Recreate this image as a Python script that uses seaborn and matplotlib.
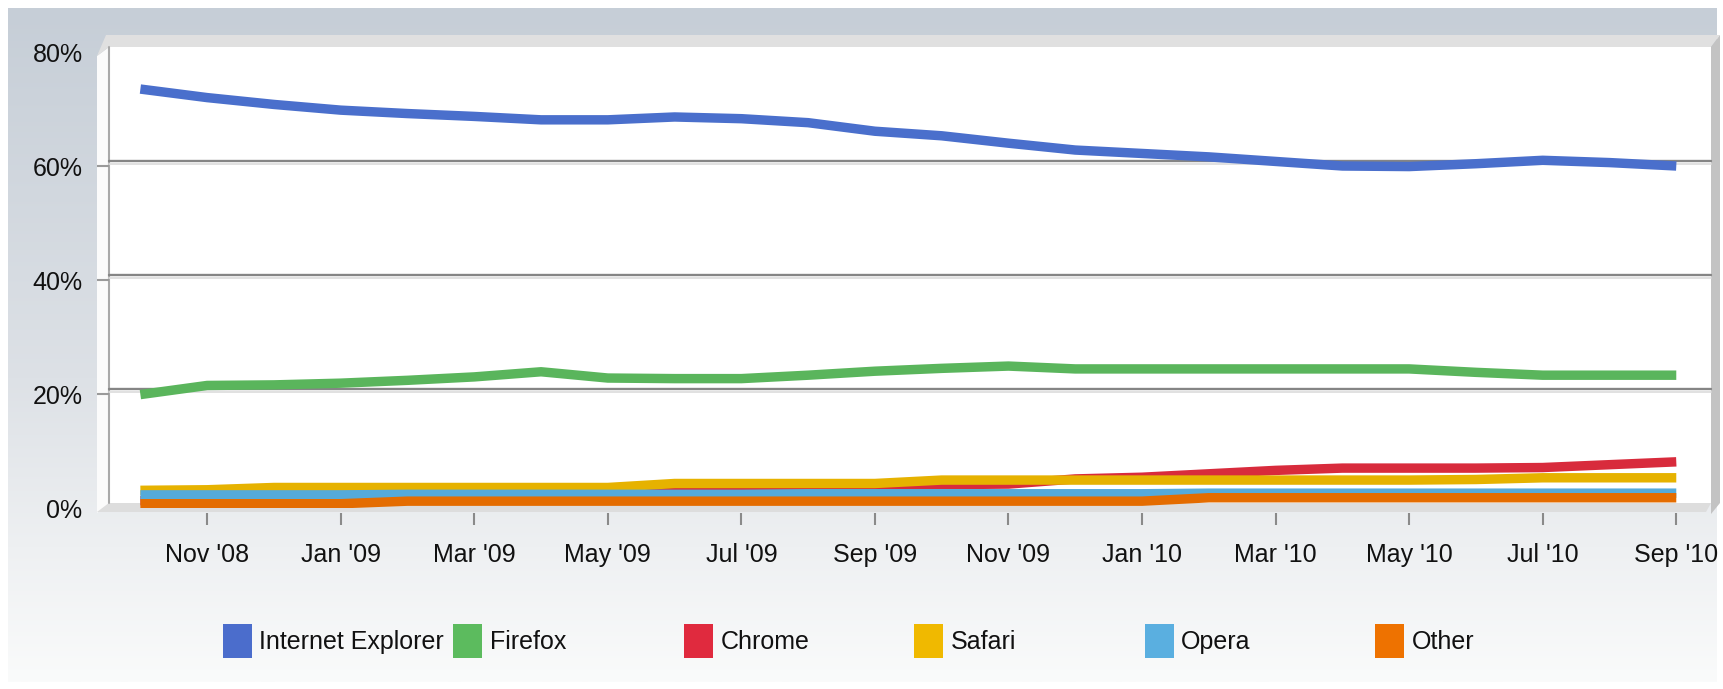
import numpy as np
import pandas as pd
import matplotlib
matplotlib.use("Agg")
import matplotlib.pyplot as plt
import seaborn as sns
from matplotlib.patches import Polygon, Patch
from matplotlib.transforms import ScaledTranslation
from matplotlib.colors import to_rgb

# ---------------- data ----------------
months = ["Oct '08", "Nov '08", "Dec '08", "Jan '09", "Feb '09", "Mar '09",
          "Apr '09", "May '09", "Jun '09", "Jul '09", "Aug '09", "Sep '09",
          "Oct '09", "Nov '09", "Dec '09", "Jan '10", "Feb '10", "Mar '10",
          "Apr '10", "May '10", "Jun '10", "Jul '10", "Aug '10", "Sep '10"]
tick_labels = ["Nov '08", "Jan '09", "Mar '09", "May '09", "Jul '09", "Sep '09",
               "Nov '09", "Jan '10", "Mar '10", "May '10", "Jul '10", "Sep '10"]
browsers = ["Internet Explorer", "Firefox", "Chrome", "Safari", "Opera", "Other"]

ie = [73.5, 72.0, 70.8, 69.8, 69.2, 68.7, 68.1, 68.1, 68.6, 68.3, 67.6, 66.1,
      65.3, 64.0, 62.8, 62.2, 61.6, 60.8, 60.0, 59.9, 60.4, 61.0, 60.6, 60.0]
firefox = [19.9, 21.5, 21.6, 21.9, 22.4, 23.0, 23.9, 22.8, 22.7, 22.7, 23.3, 24.0,
           24.5, 24.9, 24.4, 24.4, 24.4, 24.4, 24.4, 24.4, 23.8, 23.3, 23.3, 23.3]
chrome = [1.3, 1.5, 1.7, 1.9, 2.1, 2.3, 2.5, 2.8, 3.1, 3.2, 3.3, 3.8,
          4.1, 4.2, 5.1, 5.4, 6.0, 6.6, 7.0, 7.0, 7.0, 7.1, 7.6, 8.1]
safari = [3.1, 3.2, 3.6, 3.6, 3.6, 3.6, 3.6, 3.6, 4.3, 4.3, 4.3, 4.3,
          4.9, 4.9, 4.9, 4.9, 4.9, 4.9, 4.9, 4.9, 5.0, 5.3, 5.3, 5.3]
opera = [2.3, 2.3, 2.3, 2.3, 2.4, 2.4, 2.4, 2.4, 2.4, 2.4, 2.5, 2.5,
         2.5, 2.5, 2.5, 2.5, 2.6, 2.6, 2.6, 2.6, 2.6, 2.6, 2.6, 2.6]
other = [0.75, 0.75, 0.75, 0.75, 1.2, 1.2, 1.2, 1.2, 1.2, 1.2, 1.2, 1.2,
         1.2, 1.2, 1.2, 1.2, 1.8, 1.8, 1.8, 1.8, 1.8, 1.8, 1.8, 1.8]

y_ticks = [0, 20, 40, 60, 80]
y_tick_labels = ["0%", "20%", "40%", "60%", "80%"]
colors = ["#4a6fcc", "#5ab55c", "#d82b3c", "#e6b200", "#55aada", "#e46c00"]
legend_colors = ["#4b6dcc", "#5cbb5e", "#e02a3e", "#f0b900", "#5aafe0", "#ee7200"]

series = [ie, firefox, chrome, safari, opera, other]
df = pd.DataFrame({
    "month": np.tile(np.arange(len(months)), len(browsers)),
    "share": np.concatenate(series),
    "browser": np.repeat(browsers, len(months)),
})

# ---------------- figure ----------------
sns.set_theme(style="white")
plt.rcParams["font.family"] = ["DejaVu Sans Condensed", "Liberation Sans", "DejaVu Sans"]
FS = 18

W, H = 1724, 689
fig = plt.figure(figsize=(W / 100, H / 100), dpi=100)
fig.patch.set_facecolor("white")

def fx(x):
    return x / W

def fy(y):
    return 1 - y / H

# background panel with vertical gradient
bg = fig.add_axes([0, 0, 1, 1], zorder=0)
bg.set_xlim(0, W)
bg.set_ylim(H, 0)
bg.axis("off")
stops_y = [0.0, 0.55, 0.8, 1.0]
stops_c = [to_rgb("#c6ced7"), to_rgb("#dde1e6"), to_rgb("#eef0f2"), to_rgb("#fafbfb")]
t = np.linspace(0, 1, 300)
grad = np.stack([np.interp(t, stops_y, [c[i] for c in stops_c]) for i in range(3)], axis=-1)
bg.imshow(grad[:, None, :], extent=(8, 1717, 682, 8), aspect="auto",
          interpolation="bilinear", zorder=0)

# 3D box pieces
bg.add_patch(Polygon([(109, 47), (1711, 47), (1711, 503), (109, 503)],
                     closed=True, facecolor="white", edgecolor="none", zorder=1))
bg.add_patch(Polygon([(97, 56), (109, 47), (109, 503), (97, 513)],
                     closed=True, facecolor="#fbfbfb", edgecolor="none", zorder=1))
bg.add_patch(Polygon([(97, 56), (106, 35), (1720, 35), (1711, 47), (109, 47)],
                     closed=True, facecolor="#e0e0e0", edgecolor="none", zorder=2))
bg.add_patch(Polygon([(1711, 47), (1720, 35), (1720, 503), (1711, 514)],
                     closed=True, facecolor="#c3c3c3", edgecolor="none", zorder=2))
bg.add_patch(Polygon([(97, 512), (109, 503), (1711, 503), (1706, 512)],
                     closed=True, facecolor="#dddddd", edgecolor="none", zorder=2))
bg.plot([109, 109], [47, 503], color="#a9a9a9", lw=1.5, zorder=3)

# main plotting axes
ax = fig.add_axes([fx(109), fy(508), (1711 - 109) / W, (508 - 52) / H], zorder=1)
ax.patch.set_alpha(0)
for s in ax.spines.values():
    s.set_visible(False)

# back-wall gridlines (shifted up for the 3D depth)
up5 = ScaledTranslation(0, 5 / 100, fig.dpi_scale_trans)
up2 = ScaledTranslation(0, 2 / 100, fig.dpi_scale_trans)
for v in y_ticks[1:4]:
    ax.plot([0, 1], [v, v], transform=ax.get_yaxis_transform() + up2,
            color="#dcdcdc", lw=1.2, zorder=1, clip_on=False)
    ax.plot([0, 1], [v, v], transform=ax.get_yaxis_transform() + up5,
            color="#858585", lw=1.7, zorder=1, clip_on=False)

sns.lineplot(data=df, x="month", y="share", hue="browser", hue_order=browsers,
             palette=colors, linewidth=6.8, legend=False, errorbar=None,
             sort=False, ax=ax)
for ln in ax.lines[-len(browsers):]:
    ln.set_solid_capstyle("butt")
    ln.set_solid_joinstyle("round")
    ln.set_zorder(3)

ax.set_xlim(-0.47, 23.52)
ax.set_ylim(0, 80)
tick_pos = [months.index(tl) for tl in tick_labels]
ax.set_xticks(tick_pos)
ax.set_xticklabels(tick_labels)
ax.set_yticks(y_ticks)
ax.set_yticklabels(y_tick_labels)
ax.set_xlabel("")
ax.set_ylabel("")
ax.tick_params(axis="both", length=0, labelsize=FS, labelcolor="#111111")
ax.tick_params(axis="x", pad=25)
ax.tick_params(axis="y", pad=19)

# tick marks below the floor and small left ticks
ax.vlines(tick_pos, -17 / 456, -5 / 456, transform=ax.get_xaxis_transform(),
          colors="#8a8a8a", lw=1.5, clip_on=False)
ax.hlines(y_ticks[1:4], -12 / 1602, 0, transform=ax.get_yaxis_transform(),
          colors="#9a9a9a", lw=1.5, clip_on=False)

# legend: one entry per fixed-width slot
for i, (b, c) in enumerate(zip(browsers, legend_colors)):
    fig.legend(handles=[Patch(facecolor=c, edgecolor="none")], labels=[b],
               loc="center left", bbox_to_anchor=(fx(223 + i * 230.4), fy(641)),
               frameon=False, fontsize=FS, handlelength=1.16, handleheight=1.75,
               handletextpad=0.3, borderpad=0, borderaxespad=0,
               labelcolor="#111111")

fig.savefig("out.png", dpi=100, facecolor=fig.get_facecolor())
